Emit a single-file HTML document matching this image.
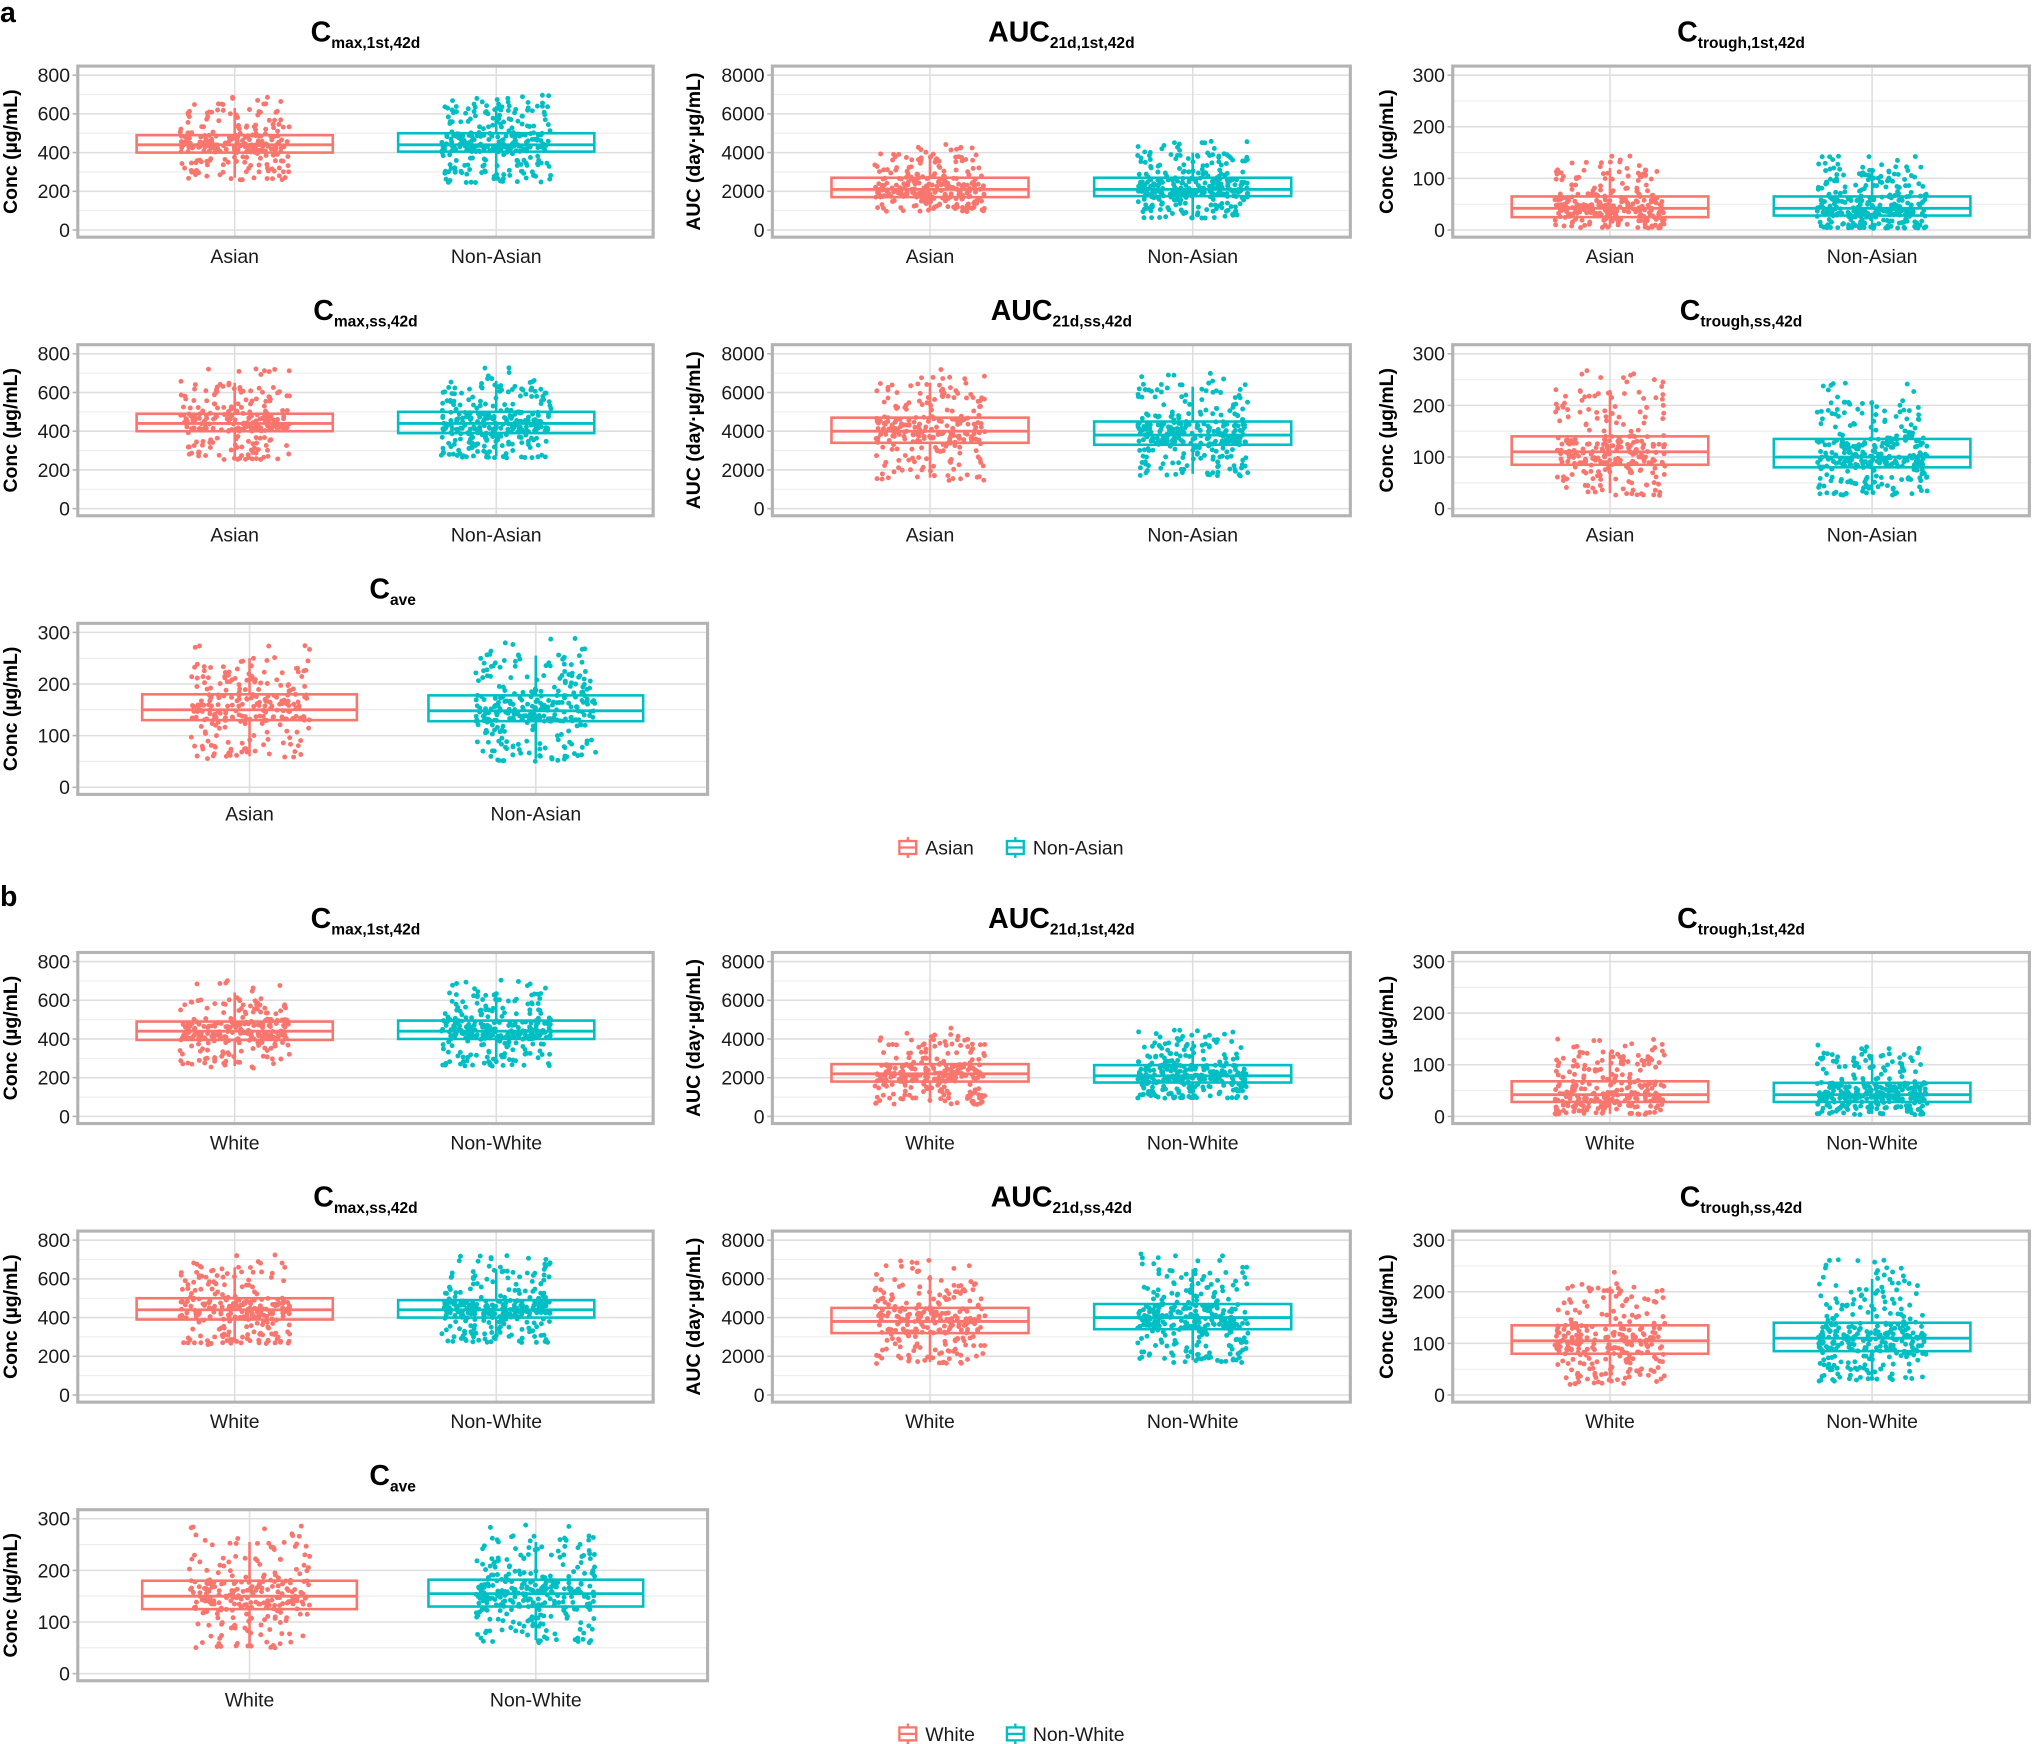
<!DOCTYPE html>
<html><head><meta charset="utf-8"><style>
html,body{margin:0;padding:0;background:#fff;}
svg{display:block;font-family:"Liberation Sans",Arial,sans-serif;}
</style></head><body>
<svg id="chart" width="2032" height="1744" viewBox="0 0 1568 1345.8" xmlns="http://www.w3.org/2000/svg">
<text x="0" y="17" font-size="22" font-weight="bold">a</text>
<text x="0" y="699" font-size="22" font-weight="bold">b</text>
</svg>
<script>
// ---- data ----
const catsA = ["Asian", "Non-Asian"];
const catsB = ["White", "Non-White"];
const titlesMain = ["C", "AUC", "C", "C", "AUC", "C", "C"];
const titlesSub = ["max,1st,42d", "21d,1st,42d", "trough,1st,42d", "max,ss,42d", "21d,ss,42d", "trough,ss,42d", "ave"];
const yTitles = ["Conc (µg/mL)", "AUC (day·µg/mL)", "Conc (µg/mL)", "Conc (µg/mL)", "AUC (day·µg/mL)", "Conc (µg/mL)", "Conc (µg/mL)"];
const yTicksCmax = [0, 200, 400, 600, 800];
const yTicksAuc = [0, 2000, 4000, 6000, 8000];
const yTicksCt = [0, 100, 200, 300];
const panelTicks = [yTicksCmax, yTicksAuc, yTicksCt, yTicksCmax, yTicksAuc, yTicksCt, yTicksCt];
// box stats: [whiskerLow, q1, median, q3, whiskerHigh] for group1, group2
const statsA = [
  [[270, 400, 440, 490, 630], [255, 405, 440, 500, 640]],
  [[1000, 1700, 2100, 2700, 3900], [700, 1750, 2100, 2700, 4000]],
  [[5, 25, 42, 65, 120], [5, 28, 42, 65, 120]],
  [[260, 400, 440, 490, 650], [270, 390, 440, 500, 660]],
  [[1600, 3400, 4000, 4700, 6500], [1800, 3300, 3800, 4500, 6300]],
  [[30, 85, 110, 140, 230], [30, 80, 100, 135, 210]],
  [[60, 130, 150, 180, 250], [55, 128, 148, 178, 255]]
];
const statsB = [
  [[260, 395, 440, 490, 640], [270, 400, 440, 495, 640]],
  [[700, 1800, 2200, 2700, 4000], [1000, 1750, 2100, 2650, 3900]],
  [[5, 28, 42, 68, 125], [5, 28, 42, 65, 120]],
  [[270, 390, 440, 500, 660], [280, 400, 440, 490, 650]],
  [[1700, 3200, 3800, 4500, 6200], [1800, 3400, 4000, 4700, 6500]],
  [[25, 80, 105, 135, 210], [30, 85, 110, 140, 225]],
  [[55, 125, 150, 180, 255], [65, 130, 155, 182, 255]]
];
const pointsPerGroup = [250, 300];
const colors = ["#F8766D", "#00BFC4"];

// ---- layout ----
const NS = "http://www.w3.org/2000/svg";
const svg = document.getElementById("chart");
function el(tag, attrs, parent) {
  const e = document.createElementNS(NS, tag);
  for (const k in attrs) e.setAttribute(k, attrs[k]);
  (parent || svg).appendChild(e);
  return e;
}
const cols = [[60, 504, 52], [596, 1042, 61], [1121, 1566, 51]];
const rowOff = [0, 215, 430];

function hash(a) { const s = Math.sin(a) * 43758.5453; return s - Math.floor(s); }

function quant(s, u) {
  const lo = s[0] - (s[1] - s[0]) * 0.08, hi = s[4] + (s[4] - s[3]) * 0.45;
  const qs = [0, 0.03, 0.25, 0.5, 0.75, 0.96, 1];
  const vs = [lo, s[0], s[1], s[2], s[3], s[4], hi];
  for (let i = 1; i < qs.length; i++) {
    if (u <= qs[i]) { const t = (u - qs[i - 1]) / (qs[i] - qs[i - 1]); return vs[i - 1] + t * (vs[i] - vs[i - 1]); }
  }
  return hi;
}

function drawPanel(idx, secOff, cats, stats, slug) {
  const r = Math.floor(idx / 3), c = idx % 3;
  const wide = idx === 6;
  const px0 = cols[c][0], px1 = wide ? 546 : cols[c][1];
  const top = 51 + rowOff[r] + secOff, bot = top + 132;
  const ticks = panelTicks[idx], ymax = ticks[ticks.length - 1];
  const y = v => top + 126.5 - v / ymax * 119.5;
  const step = (px1 - px0) / 2.2;
  const x = i => px0 + (0.6 + i) * step;
  const g = el("g", {});
  
  
  for (let i = 0; i < ticks.length - 1; i++) {
    const ln = el("line", {x1: px0, x2: px1, y1: y((ticks[i] + ticks[i + 1]) / 2), y2: y((ticks[i] + ticks[i + 1]) / 2), stroke: "#ececec", "stroke-width": 0.8}, g);
    
    
  }
  ticks.forEach(t => {
    const ln = el("line", {x1: px0, x2: px1, y1: y(t), y2: y(t), stroke: "#dedede", "stroke-width": 1.2}, g);
    
    
    const tk = el("line", {x1: px0 - 4, x2: px0, y1: y(t), y2: y(t), stroke: "#b3b3b3", "stroke-width": 1.2}, g);
    
    
    const tl = el("text", {x: px0 - 6, y: y(t) + 5.3, "font-size": 15, "text-anchor": "end", fill: "#1a1a1a"}, g);
    tl.textContent = t;
    
    
  });
  cats.forEach((cat, i) => {
    const vl = el("line", {x1: x(i), x2: x(i), y1: top, y2: bot, stroke: "#dedede", "stroke-width": 1.2}, g);
    
    
  });
  cats.forEach((cat, i) => {
    const s = stats[i], col = colors[i], hw = step * 0.375;
    const bg = el("g", {}, g);
    
    
    el("line", {x1: x(i), x2: x(i), y1: y(s[0]), y2: y(s[1]), stroke: col, "stroke-width": 2}, bg);
    el("line", {x1: x(i), x2: x(i), y1: y(s[3]), y2: y(s[4]), stroke: col, "stroke-width": 2}, bg);
    el("rect", {x: x(i) - hw, y: y(s[3]), width: 2 * hw, height: y(s[1]) - y(s[3]), fill: "none", stroke: col, "stroke-width": 2}, bg);
    el("line", {x1: x(i) - hw, x2: x(i) + hw, y1: y(s[2]), y2: y(s[2]), stroke: col, "stroke-width": 2.2}, bg);
    const pg = el("g", {fill: col}, g);
    
    
    const n = pointsPerGroup[i];
    for (let k = 1; k <= n; k++) {
      const u = hash(k * 12.9898 + idx * 78.233 + i * 37.719 + secOff * 0.013);
      const w = hash(k * 39.3468 + idx * 11.135 + i * 93.989 + secOff * 0.027);
      const p = el("circle", {cx: x(i) + (w - 0.5) * 0.42 * step, cy: y(quant(s, u)), r: 1.9}, pg);
      
      
    }
    const xl = el("text", {x: x(i), y: bot + 20, "font-size": 15, "text-anchor": "middle", fill: "#1a1a1a"}, g);
    xl.textContent = cat;
    
    
  });
  const border = el("rect", {x: px0, y: top, width: px1 - px0, height: bot - top, fill: "none", stroke: "#b3b3b3", "stroke-width": 2.4}, g);
  
  
  const tt = el("text", {x: (px0 + px1) / 2, y: top - 19, "text-anchor": "middle", "font-weight": "bold", fill: "#000"}, g);
  
  
  const t1 = el("tspan", {"font-size": 22}, tt); t1.textContent = titlesMain[idx];
  const t2 = el("tspan", {"font-size": 12, dy: 5}, tt); t2.textContent = titlesSub[idx];
  const cy = (top + bot) / 2, ax = px0 - cols[c][2] + 5;
  const yt = el("text", {x: ax, y: cy, "font-size": 15, "font-weight": "bold", "text-anchor": "middle", transform: "rotate(-90 " + ax + " " + cy + ")", fill: "#000"}, g);
  yt.textContent = yTitles[idx];
  
  
}

function legend(cats, yc) {
  const lg = el("g", {});
  
  
  const xs = [693, 776];
  cats.forEach((cat, i) => {
    const eg = el("g", {}, lg);
    
    
    const c = colors[i], x0 = xs[i];
    el("rect", {x: x0 + 1, y: yc - 5, width: 13, height: 10, fill: "none", stroke: c, "stroke-width": 1.8}, eg);
    el("line", {x1: x0 + 1, x2: x0 + 14, y1: yc, y2: yc, stroke: c, "stroke-width": 1.8}, eg);
    el("line", {x1: x0 + 7.5, x2: x0 + 7.5, y1: yc - 8, y2: yc - 5, stroke: c, "stroke-width": 1.8}, eg);
    el("line", {x1: x0 + 7.5, x2: x0 + 7.5, y1: yc + 5, y2: yc + 8, stroke: c, "stroke-width": 1.8}, eg);
    const t = el("text", {x: x0 + 21, y: yc + 5.5, "font-size": 15, fill: "#1a1a1a"}, eg);
    t.textContent = cat;
  });
}

for (let i = 0; i < 7; i++) drawPanel(i, 0, catsA, statsA[i], 'a-' + i);
for (let i = 0; i < 7; i++) drawPanel(i, 684, catsB, statsB[i], 'b-' + i);
legend(catsA, 654);
legend(catsB, 1338);
</script>
</body></html>
